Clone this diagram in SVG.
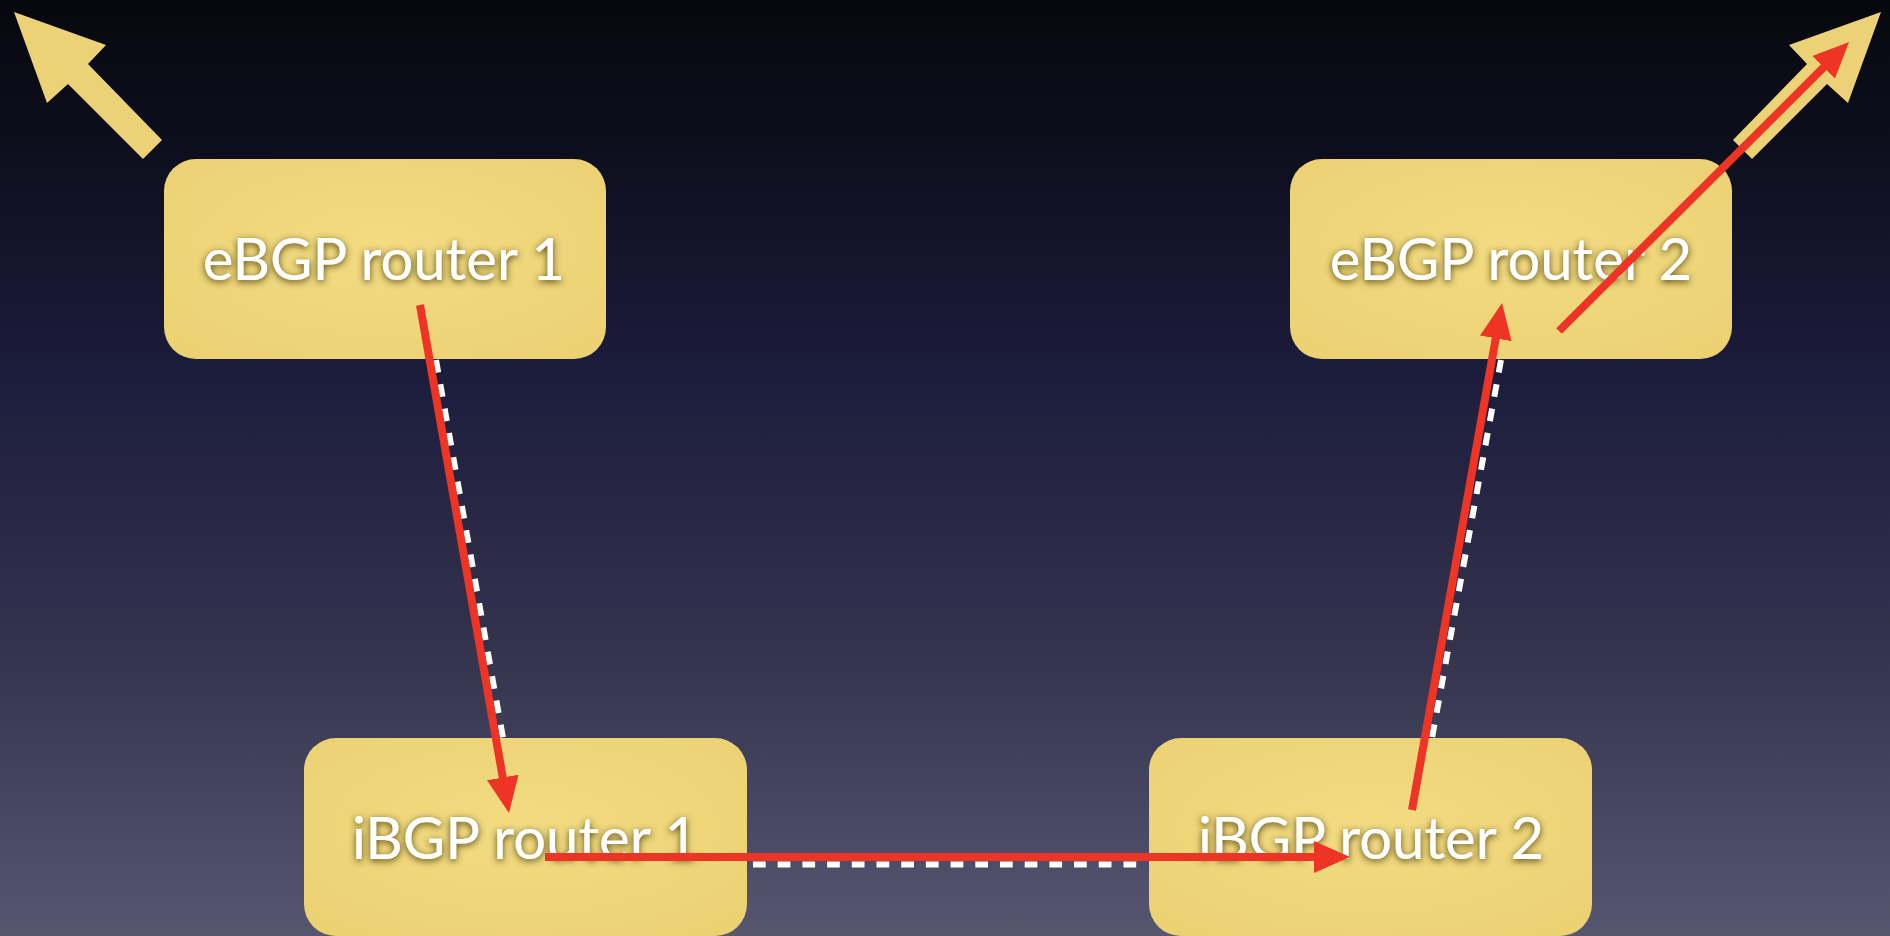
<svg xmlns="http://www.w3.org/2000/svg" xmlns:xlink="http://www.w3.org/1999/xlink" width="1890" height="936" viewBox="0 0 1890 936">
  <defs>
    <linearGradient id="bg" x1="0" y1="0" x2="0" y2="1">
      <stop offset="0" stop-color="#07080e"/>
      <stop offset="0.15" stop-color="#0d0e1c"/>
      <stop offset="0.4" stop-color="#1c1c3c"/>
      <stop offset="0.7" stop-color="#34344f"/>
      <stop offset="1" stop-color="#56566f"/>
    </linearGradient>
    <radialGradient id="paper" cx="0.5" cy="0.45" r="0.7">
      <stop offset="0" stop-color="#f2db82"/>
      <stop offset="1" stop-color="#ebd172"/>
    </radialGradient>
    <filter id="txtShadow" x="-10%" y="-30%" width="120%" height="160%">
      <feDropShadow dx="0" dy="2" stdDeviation="3.5" flood-color="#3a3000" flood-opacity="0.9"/>
    </filter>
    <marker id="redHead" viewBox="0 0 36 32" markerWidth="36" markerHeight="32" refX="6" refY="16" orient="auto" markerUnits="userSpaceOnUse">
      <path d="M0,0 L36,16 L0,32 Z" fill="#ee3424"/>
    </marker>
    <polygon id="bigArrow" points="14,12 106,45 88,64 162,140 143,159 68,84 47,103"/>
  </defs>
  <style>
    .box { fill: url(#paper); }
    .label { font-family: "Lato", "Open Sans", "Liberation Sans", sans-serif; font-size: 58px; fill: #ffffff; text-anchor: middle; filter: url(#txtShadow); }
    .big { fill: #ecd276; }
    .red { stroke: #ee3424; stroke-width: 8; fill: none; marker-end: url(#redHead); }
    .dash { stroke: #ffffff; stroke-width: 6; fill: none; stroke-dasharray: 12.7 12; }
  </style>

  <rect x="0" y="0" width="1890" height="936" fill="url(#bg)"/>

  <g id="out-arrow-left">
    <use xlink:href="#bigArrow" href="#bigArrow" class="big"/>
  </g>
  <g id="out-arrow-right">
    <use xlink:href="#bigArrow" href="#bigArrow" class="big" transform="translate(1895,0) scale(-1,1)"/>
  </g>

  <g id="ebgp1">
    <rect class="box" x="164" y="159" width="442" height="200" rx="32"/>
    <text class="label" x="384" y="280">eBGP router 1</text>
  </g>
  <g id="ebgp2">
    <rect class="box" x="1290" y="159" width="442" height="200" rx="32"/>
    <text class="label" x="1511" y="280">eBGP router 2</text>
  </g>
  <g id="ibgp1">
    <rect class="box" x="304" y="738" width="443" height="198" rx="32"/>
    <text class="label" x="525" y="859">iBGP router 1</text>
  </g>
  <g id="ibgp2">
    <rect class="box" x="1149" y="738" width="443" height="198" rx="32"/>
    <text class="label" x="1371" y="859">iBGP router 2</text>
  </g>

  <g id="connectors">
    <line class="dash" x1="436" y1="360" x2="503" y2="738"/>
    <line class="dash" x1="753" y1="864.5" x2="1140" y2="864.5"/>
    <line class="dash" x1="1501" y1="360" x2="1432" y2="738"/>
    <line class="red" x1="420" y1="305" x2="503.8" y2="783.4"/>
    <line class="red" x1="545" y1="857" x2="1320" y2="857"/>
    <line class="red" x1="1412" y1="810" x2="1496.8" y2="332.5"/>
    <line class="red" x1="1559" y1="331" x2="1827.8" y2="63.2"/>
  </g>
</svg>
